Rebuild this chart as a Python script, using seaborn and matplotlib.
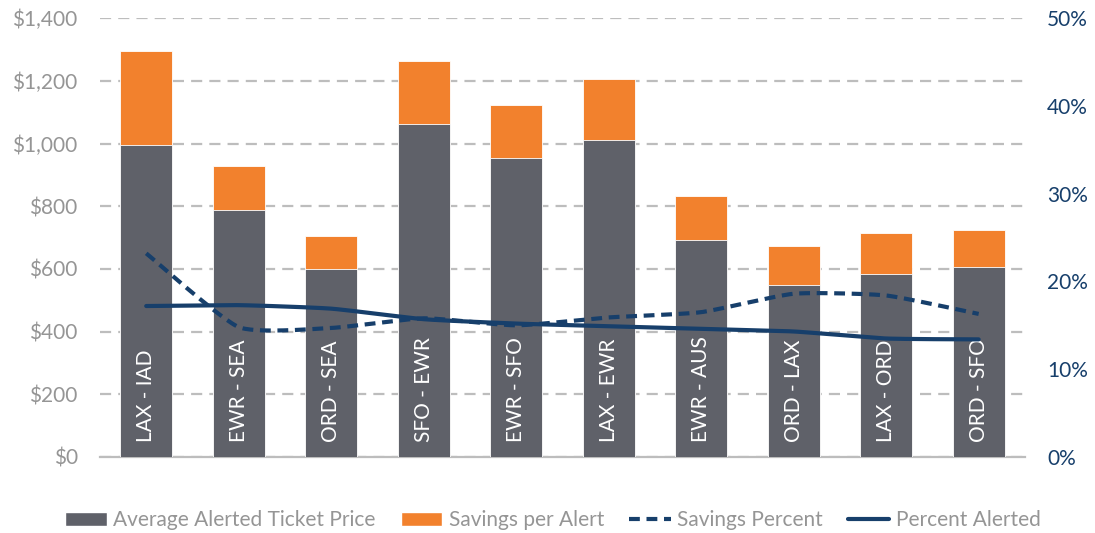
import numpy as np
import pandas as pd
import matplotlib
matplotlib.use("Agg")
import matplotlib.pyplot as plt
import seaborn as sns
from matplotlib.patches import Patch
from matplotlib.lines import Line2D
from matplotlib.ticker import FuncFormatter, MultipleLocator

# Route data
routes = ["LAX - IAD", "EWR - SEA", "ORD - SEA", "SFO - EWR", "EWR - SFO",
          "LAX - EWR", "EWR - AUS", "ORD - LAX", "LAX - ORD", "ORD - SFO"]
avg_price = [994, 787, 601, 1061, 953, 1010, 693, 548, 585, 605]
savings = [301, 140, 103, 203, 170, 196, 140, 124, 128, 119]
savings_pct = [23.2, 14.8, 14.7, 15.8, 15.0, 15.9, 16.5, 18.6, 18.4, 16.3]
pct_alerted = [17.2, 17.3, 16.9, 15.7, 15.2, 14.9, 14.6, 14.3, 13.5, 13.4]

GRAY = "#5f6169"
ORANGE = "#f2812d"
NAVY = "#173f6b"
TEXT_GRAY = "#959595"
GRID = "#bdbdbd"

sns.set_theme(style="white")
plt.rcParams["font.family"] = ["Lato", "DejaVu Sans"]

df = pd.DataFrame({"route": routes, "price": avg_price, "savings": savings})
df["total"] = df["price"] + df["savings"]


def smooth(y, tension=0.09, n=30):
    """Gently smoothed Bezier path through the given points (x = index)."""
    y = np.asarray(y, dtype=float)
    x = np.arange(len(y), dtype=float)
    px = np.concatenate([[x[0]], x, [x[-1]]])
    py = np.concatenate([[y[0]], y, [y[-1]]])
    xs, ys = [], []
    for i in range(1, len(px) - 2):
        p0, p1, p2, p3 = (np.array([px[j], py[j]]) for j in range(i - 1, i + 3))
        c1 = p1 + (p2 - p0) * tension
        c2 = p2 - (p3 - p1) * tension
        t = np.linspace(0, 1, n)[:, None]
        pts = ((1 - t) ** 3) * p1 + 3 * ((1 - t) ** 2) * t * c1 + 3 * (1 - t) * t ** 2 * c2 + t ** 3 * p2
        xs.append(pts[:, 0])
        ys.append(pts[:, 1])
    return np.concatenate(xs), np.concatenate(ys)


fig, ax = plt.subplots(figsize=(10.95, 5.33), dpi=100)
fig.subplots_adjust(left=0.0913, right=0.936, top=0.966, bottom=0.1426)

# Stacked bars: total (orange) underneath, ticket price (gray) on top of it
sns.barplot(data=df, x="route", y="total", color=ORANGE, width=0.56,
            saturation=1, ax=ax, edgecolor="white", linewidth=0.6, zorder=2)
sns.barplot(data=df, x="route", y="price", color=GRAY, width=0.56,
            saturation=1, ax=ax, edgecolor="white", linewidth=0.6, zorder=3)

ax.set_ylim(0, 1400)
ax.set_xlim(-0.5, len(routes) - 0.5)
ax.yaxis.set_major_locator(MultipleLocator(200))
ax.yaxis.set_major_formatter(FuncFormatter(lambda v, p: f"${v:,.0f}"))
ax.set_xlabel("")
ax.set_ylabel("")
ax.set_xticks(range(len(routes)))
ax.set_xticklabels([])
ax.tick_params(axis="x", length=0)
ax.tick_params(axis="y", length=0, pad=16, labelsize=15, labelcolor=TEXT_GRAY)
ax.grid(axis="y", color=GRID, linestyle=(0, (5, 3.2)), linewidth=1.6, zorder=0)
ax.set_axisbelow(True)
for side in ["top", "right", "left"]:
    ax.spines[side].set_visible(False)
ax.spines["bottom"].set_color(GRID)
ax.spines["bottom"].set_linewidth(1.6)

# Route names inside the bars
for i, name in enumerate(routes):
    ax.annotate(name, (i, 0), xytext=(0, 11), textcoords="offset points",
                rotation=90, ha="center", va="bottom", color="white",
                fontsize=15, zorder=5)

# Percentages on the secondary axis
ax2 = ax.twinx()
ax2.set_ylim(0, 50)
xs, ys = smooth(savings_pct)
sns.lineplot(x=xs, y=ys, ax=ax2, color=NAVY, linewidth=3.0, sort=False,
             estimator=None, linestyle=(0, (2.6, 1.6)))
xs, ys = smooth(pct_alerted)
sns.lineplot(x=xs, y=ys, ax=ax2, color=NAVY, linewidth=3.0, sort=False,
             estimator=None)
ax2.set_xlim(-0.5, len(routes) - 0.5)
ax2.yaxis.set_major_locator(MultipleLocator(10))
ax2.yaxis.set_major_formatter(FuncFormatter(lambda v, p: f"{v:.0f}%"))
ax2.tick_params(axis="y", length=0, pad=16, labelsize=15, labelcolor=NAVY)
ax2.set_ylabel("")
for side in ["top", "right", "left", "bottom"]:
    ax2.spines[side].set_visible(False)
ax2.grid(False)

handles = [
    Patch(facecolor=GRAY, label="Average Alerted Ticket Price"),
    Patch(facecolor=ORANGE, label="Savings per Alert"),
    Line2D([], [], color=NAVY, linewidth=3.0, linestyle=(0, (2.6, 1.6)), label="Savings Percent"),
    Line2D([], [], color=NAVY, linewidth=3.0, label="Percent Alerted"),
]
leg = fig.legend(handles=handles, loc="lower center", ncol=4, frameon=False,
                 bbox_to_anchor=(0.505, -0.03), fontsize=15, handlelength=2.0,
                 handleheight=0.6, handletextpad=0.3, columnspacing=1.2)
for t in leg.get_texts():
    t.set_color(TEXT_GRAY)

fig.savefig("out.png", dpi=100)
